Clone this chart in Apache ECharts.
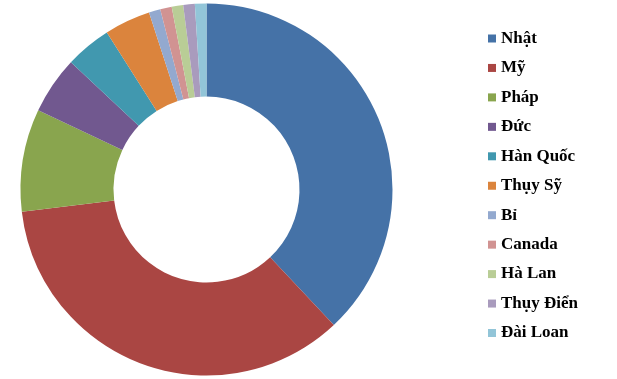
<!DOCTYPE html>
<html>
<head>
<meta charset="utf-8">
<script src="https://cdn.jsdelivr.net/npm/echarts@6/dist/echarts.min.js"></script>
<style>html,body{margin:0;padding:0;background:#fff;}#c{width:617px;height:379px;}</style>
</head>
<body>
<div id="c"></div>
<script>
const categories = ['Nhật', 'Mỹ', 'Pháp', 'Đức', 'Hàn Quốc', 'Thụy Sỹ', 'Bỉ', 'Canada', 'Hà Lan', 'Thụy Điển', 'Đài Loan'];
const values = [38, 35.1, 8.9, 5, 4, 4, 1, 1, 1, 1, 1];
const colors = ['#4572A7', '#AA4643', '#89A54E', '#71588F', '#4198AF', '#DB843D', '#93A9CF', '#D19392', '#B9CD96', '#A99BBD', '#92C5D8'];

const chart = echarts.init(document.getElementById('c'), null, {renderer: 'canvas'});
chart.setOption({
  animation: false,
  backgroundColor: '#ffffff',
  color: colors,
  legend: {
    orient: 'vertical',
    left: 488,
    top: 28.5,
    icon: 'rect',
    itemWidth: 8,
    itemHeight: 8,
    itemGap: 9.45,
    padding: 0,
    textStyle: {
      fontFamily: 'Liberation Serif',
      fontWeight: 'bold',
      fontSize: 17,
      lineHeight: 20,
      color: '#000'
    },
    data: categories
  },
  series: [{
    type: 'pie',
    center: [206.5, 189.5],
    radius: [93, 186],
    startAngle: 90,
    clockwise: true,
    label: {show: false},
    labelLine: {show: false},
    emphasis: {disabled: true},
    itemStyle: {borderWidth: 0},
    data: categories.map((n, i) => ({name: n, value: values[i]}))
  }]
});
</script>
</body>
</html>
